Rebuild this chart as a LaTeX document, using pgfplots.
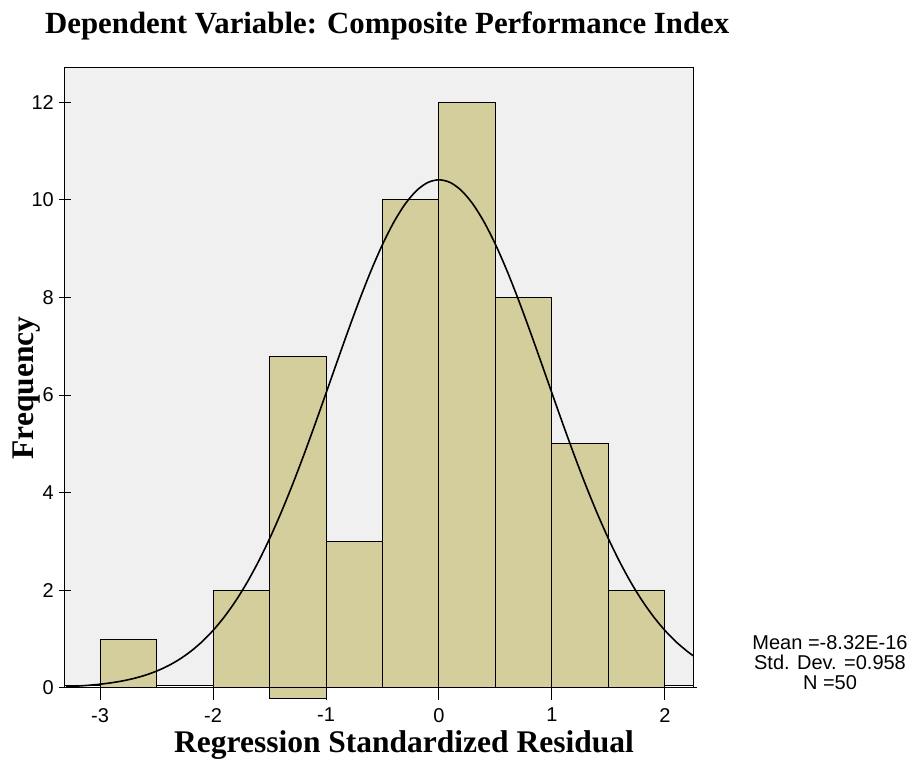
\documentclass[border=0pt]{standalone}
\usepackage{pgfplots}
\pgfplotsset{compat=1.18}
\usepackage{fontspec}
\setmainfont{Liberation Sans}
\newfontfamily\tnr{Liberation Serif}
\definecolor{panel}{RGB}{240,240,240}
\definecolor{barcol}{RGB}{211,206,155}
\begin{document}
\begin{tikzpicture}
\path (0,0) rectangle (919pt,773pt);
\begin{axis}[
  at={(65pt,85pt)}, anchor=south west,
  scale only axis, width=628pt, height=620pt,
  xmin=-3.31, xmax=2.248, ymin=0, ymax=12.70,
  clip=false, axis on top,
  axis line style={black, line width=1pt},
  xtick={-3,-2,-1,0,1,2}, ytick={0,2,4,6,8,10,12},
  tick pos=left,
  xtick align=outside, ytick align=center,
  major tick length=12pt,
  tick style={black, line width=1pt},
  /pgf/number format/assume math mode=true,
  ticklabel style={font=\fontsize{20}{20}\selectfont},
  xticklabel style={inner sep=0pt, yshift=-8pt},
  yticklabel style={inner sep=0pt, xshift=-5pt},
]
\addplot[fill=panel, draw=black, line width=1pt] coordinates {(-3.31,0.06)(2.248,0.06)(2.248,12.70)(-3.31,12.70)} --cycle;
\addplot[black, line width=1pt] coordinates {(-3.31,0)(2.283,0)};
\addplot[ybar, bar width=0.5, bar shift=0pt, fill=barcol, draw=black, line width=1pt] coordinates {(-2.75,1)(-1.75,2)(-0.75,3)(-0.25,10)(0.25,12)(0.75,8)(1.25,5)(1.75,2)};
\addplot[fill=barcol, draw=black, line width=1pt] coordinates {(-1.5,-0.22)(-1,-0.22)(-1,6.78)(-1.5,6.78)} --cycle;
\addplot[black, line width=1.6pt, smooth] coordinates {
(-3.3,0.0276)(-3.2,0.0393)(-3.1,0.0554)(-3.0,0.0773)(-2.9,0.1066)(-2.8,0.1453)(-2.7,0.1961)(-2.6,0.2618)(-2.5,0.3457)(-2.4,0.4515)(-2.3,0.5831)(-2.2,0.7454)(-2.1,0.9419)(-2.0,1.1778)(-1.9,1.4566)(-1.8,1.7819)(-1.7,2.1562)(-1.6,2.5805)(-1.5,3.0556)(-1.4,3.5789)(-1.3,4.1457)(-1.2,4.7504)(-1.1,5.3847)(-1.0,6.0375)(-0.9,6.6960)(-0.8,7.3456)(-0.7,7.9710)(-0.6,8.5562)(-0.5,9.0845)(-0.4,9.5410)(-0.3,9.9119)(-0.2,10.1856)(-0.1,10.3534)(0,10.41)
(0.1,10.3534)(0.2,10.1856)(0.3,9.9119)(0.4,9.5410)(0.5,9.0845)(0.6,8.5562)(0.7,7.9710)(0.8,7.3456)(0.9,6.6960)(1.0,6.0375)(1.1,5.3847)(1.2,4.7504)(1.3,4.1457)(1.4,3.5789)(1.5,3.0556)(1.6,2.5805)(1.7,2.1562)(1.8,1.7819)(1.9,1.4566)(2.0,1.1778)(2.1,0.9419)(2.2,0.7454)(2.25,0.6603)};
\end{axis}
\node[anchor=base west, inner sep=0pt, font=\tnr\bfseries\fontsize{30.8}{31}\selectfont] at (45pt,739pt) {Dependent Variable: Composite Performance Index};
\node[anchor=base, inner sep=0pt, font=\tnr\bfseries\fontsize{31.5}{32}\selectfont] at (404pt,20pt) {Regression Standardized Residual};
\node[anchor=base, rotate=90, inner sep=0pt, font=\tnr\bfseries\fontsize{31.5}{32}\selectfont] at (33pt,385pt) {Frequency};
\node[anchor=base, inner sep=0pt, font=\fontsize{20}{20}\selectfont] at (830pt,123pt) {Mean =-8.32E-16};
\node[anchor=base, inner sep=0pt, font=\fontsize{20}{20}\selectfont] at (830pt,103pt) {Std. Dev. =0.958};
\node[anchor=base, inner sep=0pt, font=\fontsize{20}{20}\selectfont] at (830pt,83pt) {N =50};
\end{tikzpicture}
\end{document}
